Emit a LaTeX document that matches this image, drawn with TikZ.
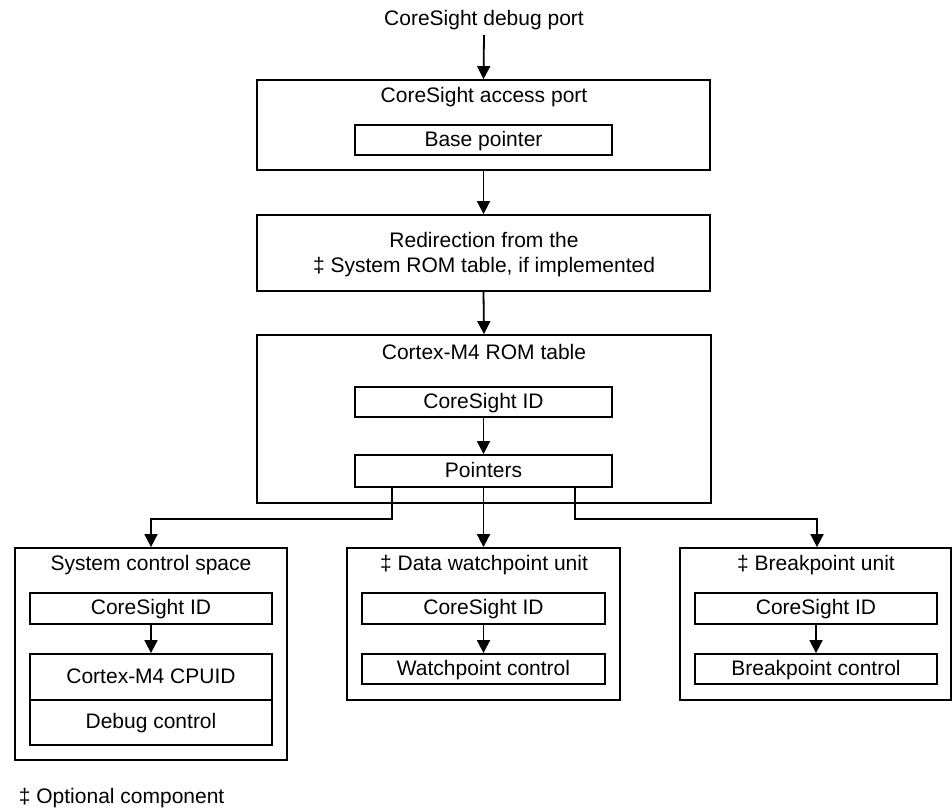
\documentclass[tikz,border=0pt]{standalone}
\usepackage{fontspec}
\setmainfont{Liberation Sans}
\usetikzlibrary{arrows.meta}
\begin{document}
\begin{tikzpicture}[x=1pt,y=-1pt,
  every node/.style={font=\fontsize{21}{25}\selectfont, inner sep=0pt},
  box/.style={draw, line width=1.8pt, rectangle, minimum width=#1, text height=15pt, text depth=3pt},
  frame/.style={draw, line width=1.8pt, rectangle, minimum width=#1},
  ttl/.style={anchor=center},
  arr/.style={line width=1.8pt, -{Triangle[length=13pt,width=13pt]}},
  line width=1.8pt]
\useasboundingbox (0,0) rectangle (952,808);
% top
\node (dp) at (484,20.5) {CoreSight debug port};
\coordinate (dpend) at (484,35);
\node[frame=453, minimum height=90] (ap) at (483.5,125) {};
\node[ttl] (apt) at (484,97.5) {CoreSight access port};
\node[box=257, minimum height=30] (bp) at (483.5,140) {Base pointer};
\node[frame=453, minimum height=76] (red) at (483.5,253) {};
\node[align=center] (redt) at (484,255) {Redirection from the\\‡ System ROM table, if implemented};
% ROM table
\node[frame=454, minimum height=168] (rom) at (484,419) {};
\node[ttl] (romt) at (484,351.5) {Cortex-M4 ROM table};
\node[box=257, minimum height=30] (cid) at (483.5,402) {CoreSight ID};
\node[box=257, minimum height=32] (ptr) at (483.5,471) {Pointers};
% SCS
\node[frame=272, minimum height=212] (scs) at (151,654) {};
\node[ttl] (scst) at (151,565.5) {System control space};
\node[box=242, minimum height=31] (scid) at (151,608.5) {CoreSight ID};
\node[box=242, minimum height=46] (cpuid) at (151,677) {Cortex-M4 CPUID};
\node[box=242, minimum height=45] (dbg) at (151,722.5) {Debug control};
% DWT
\node[frame=273, minimum height=152] (dwt) at (483.5,624) {};
\node[ttl] (dwtt) at (484,565.5) {‡ Data watchpoint unit};
\node[box=243, minimum height=31] (dcid) at (483.5,608.5) {CoreSight ID};
\node[box=243, minimum height=30] (wpc) at (483.5,669) {Watchpoint control};
% BPU
\node[frame=271, minimum height=152] (bpu) at (815.5,624) {};
\node[ttl] (bput) at (816,565.5) {‡ Breakpoint unit};
\node[box=242, minimum height=31] (bcid) at (816,608.5) {CoreSight ID};
\node[box=242, minimum height=30] (bpc) at (816,669) {Breakpoint control};
% footer
\node[anchor=west] (foot) at (18,798) {‡ Optional component};
% connectors
\draw[arr] (dpend) -- (ap.north);
\draw[arr] (ap.south) -- (red.north);
\draw[arr] (red.south) -- (rom.north);
\draw[arr] (cid.south) -- (ptr.north);
\draw[arr] ([xshift=38pt]ptr.south west) -- ++(0,31) -| (scs.north);
\draw[arr] (ptr.south) -- (dwt.north);
\draw[arr] ([xshift=-38pt]ptr.south east) -- ++(0,31) -| ([xshift=1.5pt]bpu.north);
\draw[arr] (scid.south) -- (cpuid.north);
\draw[arr] (dcid.south) -- (wpc.north);
\draw[arr] (bcid.south) -- (bpc.north);
\end{tikzpicture}
\end{document}
